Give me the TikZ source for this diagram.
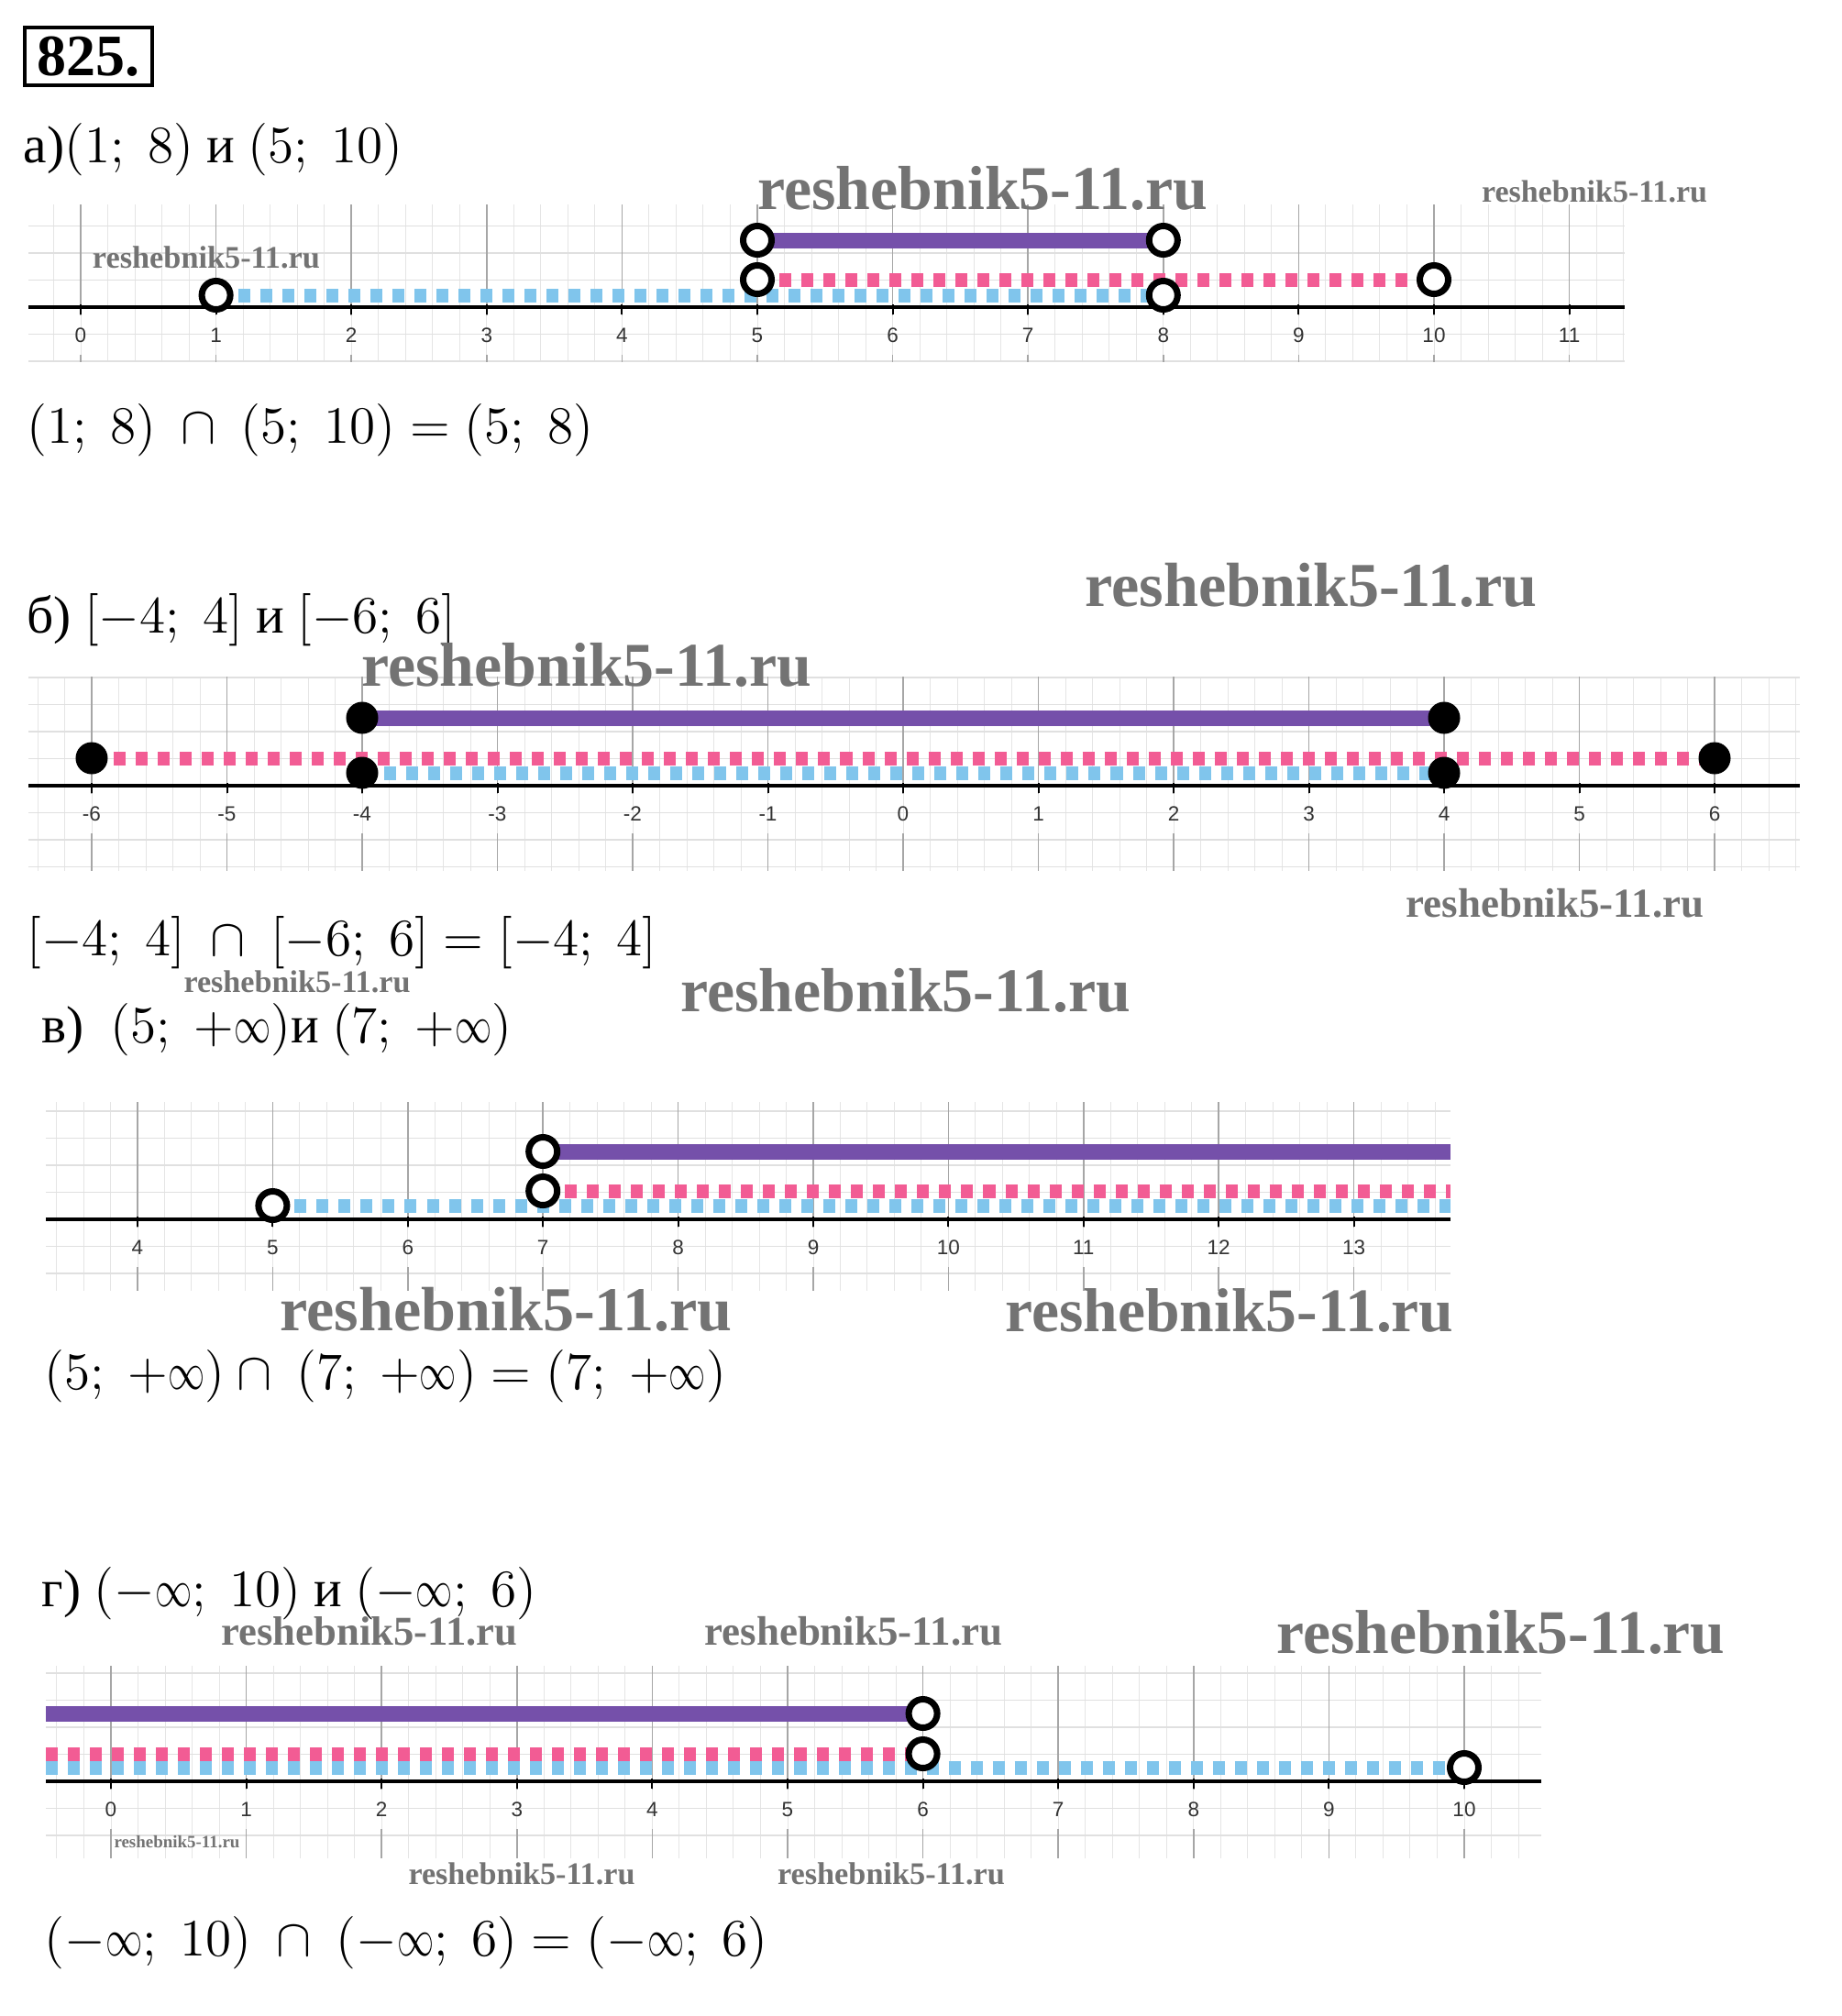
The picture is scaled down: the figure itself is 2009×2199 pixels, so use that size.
\RequirePackage{fix-cm}
\documentclass[tikz,border=0pt]{standalone}
\usepackage[no-math]{fontspec}
\setmainfont{Liberation Serif}
\newfontfamily\labelfont{Liberation Sans}
\definecolor{purp}{RGB}{117,80,170}
\definecolor{pinkc}{RGB}{242,92,148}
\definecolor{bluec}{RGB}{128,197,236}
\pgfdeclarelayer{bg}
\pgfsetlayers{bg,main}
\newlength{\pxu}\setlength{\pxu}{0.01cm}
\newcommand{\ninf}{\mathord{\scalebox{0.7}[1]{$\infty$}}}
\tikzset{
  txt/.style={anchor=base west,inner sep=0pt,font=\fontsize{16.3}{20}\selectfont},
  wm/.style={inner sep=0pt,text=black!55,font=\bfseries},
  tlabel/.style={inner sep=0pt,text=black!80,font=\labelfont\fontsize{6.4}{8}\selectfont},
  minorgrid/.style={draw=black!10,line width=0.01cm},
  hgrid/.style={draw=black!12,line width=0.012cm},
  majorgrid/.style={draw=black!35,line width=0.015cm},
  axisline/.style={draw=black,line width=0.035cm},
  tickline/.style={draw=black,line width=0.02cm},
  purpleline/.style={draw=purp,line width=0.17cm},
  pinkline/.style={draw=pinkc,line width=0.15cm,dash pattern=on 0.13cm off 0.11cm},
  blueline/.style={draw=bluec,line width=0.15cm,dash pattern=on 0.13cm off 0.11cm},
  opendot/.style={circle,draw=black,line width=0.07cm,fill=white,minimum size=0.31cm,inner sep=0pt},
  fulldot/.style={circle,fill=black,minimum size=0.35cm,inner sep=0pt},
  numbox/.style={draw,line width=0.04cm,minimum width=1.39cm,minimum height=0.63cm,inner sep=0pt,font=\bfseries\fontsize{18.2}{20}\selectfont}
}
% #1 prefix, #2 x of value 0, #3 unit, #4 xmin, #5 xmax, #6 ytop, #7 yaxis, #8 ybot, #9 list
\newcommand{\NumLine}[9]{%
  \begin{pgfonlayer}{bg}
    \begin{scope}
      \clip (#4,#6) rectangle (#5,#8);
      \foreach \k in {-40,...,80}{\draw[minorgrid] ({#2+\k*#3/5},#6) -- ({#2+\k*#3/5},#8);}
      \foreach \j in {-5,...,5}{\draw[hgrid] (#4,{#7+\j*#3/5}) -- (#5,{#7+\j*#3/5});}
    \end{scope}
    \foreach \n in {#9}{%
      \draw[majorgrid] ({#2+\n*#3},#6) -- ({#2+\n*#3},{#7+9});
      \draw[majorgrid] ({#2+\n*#3},{#7+52}) -- ({#2+\n*#3},#8);}
    \coordinate (#1axL) at (#4,#7);
    \coordinate (#1axR) at (#5,#7);
    \draw[axisline] (#1axL) -- (#1axR);
    \foreach \n in {#9}{\draw[tickline] ({#2+\n*#3},{#7-3}) -- ({#2+\n*#3},{#7+8});}
  \end{pgfonlayer}
  \foreach \n in {#9}{\node[tlabel] (#1l\n) at ({#2+\n*#3},{#7+31}) {\n};}
}
\newcommand{\wmark}[4]{\node[wm] (#1) at (#2,#3) {\resizebox{#4\pxu}{!}{reshebnik5-11.ru}};}
\begin{document}
\begin{tikzpicture}[x=0.01cm,y=-0.01cm]
\useasboundingbox (0,0) rectangle (2009,2199);
\begin{pgfonlayer}{bg}
  \fill[white] (0,0) rectangle (2009,2199);
\end{pgfonlayer}

% title
\node[numbox] (num) at (96.5,61.5) {825.};

% texts
\node[txt] (ta) at (25,177) {а)$(1;\;8)$ и $(5;\;10)$};
\node[txt] (ra) at (29,483) {$(1;\;8)\ \cap\ (5;\;10)=(5;\;8)$};
\node[txt] (tb) at (29,690) {б) $[-4;\;4]$ и $[-6;\;6]$};
\node[txt] (rb) at (29,1042) {$[-4;\;4]\ \cap\ [-6;\;6]=[-4;\;4]$};
\node[txt] (tc) at (45,1137) {в)\ \ $(5;\;+\ninf)$и $(7;\;+\ninf)$};
\node[txt] (rc) at (48,1515) {$(5;\;+\ninf)\cap\ (7;\;+\ninf)=(7;\;+\ninf)$};
\node[txt] (td) at (45,1752) {г) $(-\ninf;\;10)$ и $(-\ninf;\;6)$};
\node[txt] (rd) at (48,2133) {$(-\ninf;\;10)\ \cap\ (-\ninf;\;6)=(-\ninf;\;6)$};

% number lines
\NumLine{a}{88}{147.6}{31}{1772}{223}{335}{395}{0,...,11}
\NumLine{b}{985}{147.5}{31}{1963}{738}{857}{950}{-6,...,6}
\NumLine{c}{-439.6}{147.4}{50}{1582}{1202}{1330}{1408}{4,...,13}
\NumLine{d}{121}{147.6}{50}{1681}{1817}{1943}{2027}{0,...,10}

% part a points
\node[opendot] (ap1) at (826,262) {};
\node[opendot] (ap2) at (1268.8,262) {};
\node[opendot] (ak1) at (826,305) {};
\node[opendot] (ak2) at (1564,305) {};
\node[opendot] (ab1) at (235.6,322) {};
\node[opendot] (ab2) at (1268.8,322) {};
% part b points
\node[fulldot] (bp1) at (395,783) {};
\node[fulldot] (bp2) at (1575,783) {};
\node[fulldot] (bk1) at (100,827) {};
\node[fulldot] (bk2) at (1870,827) {};
\node[fulldot] (bb1) at (395,843) {};
\node[fulldot] (bb2) at (1575,843) {};
% part c points
\node[opendot] (cp1) at (592.2,1256) {};
\node[opendot] (ck1) at (592.2,1299) {};
\node[opendot] (cb1) at (297.4,1315) {};
\coordinate (cpE) at (1582,1256);
\coordinate (ckE) at (1582,1299);
\coordinate (cbE) at (1582,1315);
% part d points
\coordinate (dpS) at (50,1869);
\coordinate (dkS) at (50,1913);
\coordinate (dbS) at (50,1928);
\node[opendot] (dp1) at (1006.6,1869) {};
\node[opendot] (dk1) at (1006.6,1913) {};
\node[opendot] (db1) at (1597,1928) {};

% segments
\begin{pgfonlayer}{bg}
  \draw[purpleline] (ap1.center) -- (ap2.center);
  \draw[pinkline] (ak1.center) -- (ak2.center);
  \draw[blueline] (ab1.center) -- (ab2.center);
  \draw[purpleline] (bp1.center) -- (bp2.center);
  \draw[pinkline] (bk1.center) -- (bk2.center);
  \draw[blueline] (bb1.center) -- (bb2.center);
  \draw[purpleline] (cp1.center) -- (cpE);
  \draw[pinkline] (ck1.center) -- (ckE);
  \draw[blueline] (cb1.center) -- (cbE);
  \draw[purpleline] (dpS) -- (dp1.center);
  \draw[pinkline] (dkS) -- (dk1.center);
  \draw[blueline] (dbS) -- (db1.center);
\end{pgfonlayer}

% watermarks
\wmark{wm1}{1072}{205}{491}
\wmark{wm2}{1739}{209}{246}
\wmark{wm3}{225}{281}{248}
\wmark{wm4}{640}{725}{491}
\wmark{wm5}{1430}{638}{493}
\wmark{wm6}{1696}{985}{325}
\wmark{wm7}{324}{1071}{247}
\wmark{wm8}{988}{1080}{491}
\wmark{wm9}{552}{1428}{493}
\wmark{wm10}{1341}{1430}{489}
\wmark{wm11}{403}{1779}{323}
\wmark{wm12}{931}{1779}{325}
\wmark{wm13}{1637}{1780}{489}
\wmark{wm14}{193}{2009}{137}
\wmark{wm15}{569}{2044}{247}
\wmark{wm16}{972}{2044}{248}
\end{tikzpicture}
\end{document}
